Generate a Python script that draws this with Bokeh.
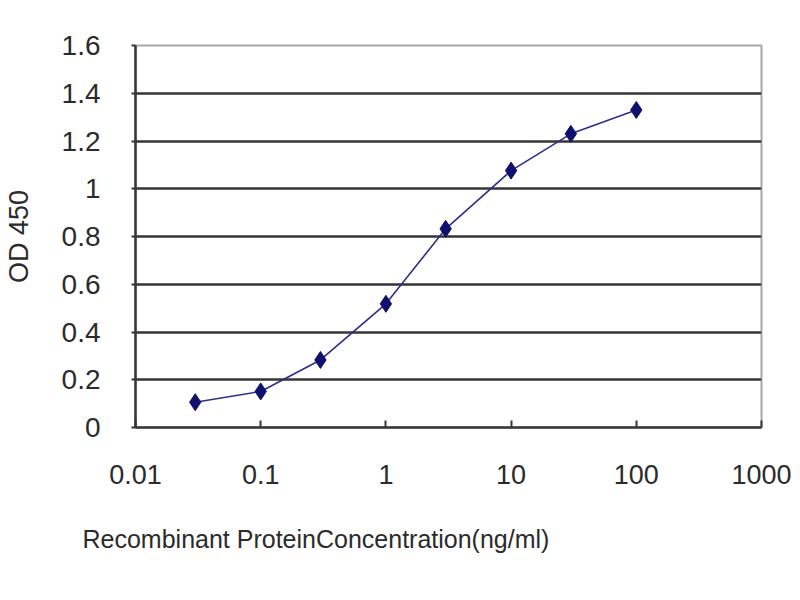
from bokeh.plotting import figure
from bokeh.models import (ColumnDataSource, FixedTicker, Range1d,
                          CustomJSTickFormatter, Title)
from bokeh.embed import file_html
from bokeh.resources import INLINE

# ============================================
# Datos
# ============================================
concentracion = [0.03, 0.1, 0.3, 1, 3, 10, 30, 100]
od450 = [0.106, 0.151, 0.283, 0.518, 0.832, 1.076, 1.23, 1.33]

x_ticks = [0.01, 0.1, 1, 10, 100, 1000]
x_tick_labels = ["0.01", "0.1", "1", "10", "100", "1000"]
y_ticks = [0, 0.2, 0.4, 0.6, 0.8, 1.0, 1.2, 1.4, 1.6]
y_tick_labels = ["0", "0.2", "0.4", "0.6", "0.8", "1", "1.2", "1.4", "1.6"]

src = ColumnDataSource(dict(x=concentracion, y=od450))

FONT = "Liberation Sans"
TXT = "#2b2b2b"
GRID = "#363636"

# ============================================
# Figura
# ============================================
p = figure(
    width=792, height=592,
    x_axis_type="log",
    x_range=Range1d(0.01, 1000), y_range=Range1d(0, 1.6),
    output_backend="svg", toolbar_location=None,
    min_border_left=135, min_border_right=31,
    min_border_top=45, min_border_bottom=165,
)
p.background_fill_color = "white"
p.border_fill_color = "white"
p.outline_line_color = "#a8a8a8"
p.outline_line_width = 2

p.line("x", "y", source=src, line_color="#2e2e8c", line_width=1.6)
p.scatter("x", "y", source=src, marker="diamond", size=17,
          fill_color="#10106e", line_color="#10106e")

# Rejilla
p.xgrid.grid_line_color = None
p.ygrid.ticker = FixedTicker(ticks=y_ticks[1:-1])
p.ygrid.grid_line_color = GRID
p.ygrid.grid_line_width = 2.5

# Eje X
xa = p.xaxis[0]
xa.ticker = FixedTicker(ticks=x_ticks, minor_ticks=[])
xa.formatter = CustomJSTickFormatter(
    args=dict(xt=x_ticks, xl=x_tick_labels),
    code="""
    for (let i = 0; i < xt.length; i++) {
        if (Math.abs(Math.log10(tick) - Math.log10(xt[i])) < 1e-6) return xl[i];
    }
    return "";
""")
xa.major_tick_in = 7
xa.major_tick_out = 0
xa.minor_tick_in = 0
xa.minor_tick_out = 0
xa.major_label_standoff = 37

# título del eje X (alineado a la izquierda como en el original)
xt_title = Title(text="Recombinant ProteinConcentration(ng/ml)",
                 align="left", offset=-53, standoff=72,
                 text_font=FONT, text_font_size="25px",
                 text_font_style="normal", text_color=TXT)
p.add_layout(xt_title, "below")

# Eje Y
ya = p.yaxis[0]
ya.ticker = FixedTicker(ticks=y_ticks, minor_ticks=[])
ya.major_label_overrides = {t: l for t, l in zip(y_ticks, y_tick_labels)}
ya.axis_label = "OD 450"
ya.major_tick_in = 0
ya.major_tick_out = 4
ya.minor_tick_in = 0
ya.minor_tick_out = 0
ya.major_label_standoff = 31
ya.axis_label_standoff = 25

for ax in (xa, ya):
    ax.axis_line_color = GRID
    ax.axis_line_width = 2.5
    ax.major_tick_line_color = GRID
    ax.major_tick_line_width = 2
    ax.major_label_text_font = FONT
    ax.major_label_text_color = TXT
    ax.axis_label_text_font = FONT
    ax.axis_label_text_font_style = "normal"
    ax.axis_label_text_color = TXT

xa.major_label_text_font_size = "27px"
ya.major_label_text_font_size = "28px"
ya.axis_label_text_font_size = "27px"

open("out.html", "w").write(file_html(p, INLINE))
